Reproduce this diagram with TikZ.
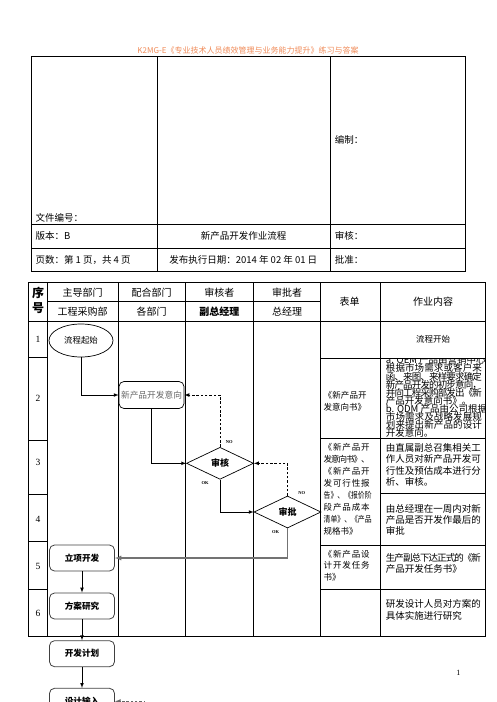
\documentclass[tikz,border=0pt]{standalone}
\usepackage{fontspec}
\usepackage{graphicx}
\setmainfont{Noto Sans CJK SC}
\newfontfamily\numfont{Liberation Serif}
\usetikzlibrary{shapes.geometric}
\usetikzlibrary{arrows.meta}
\tikzset{>=latex}
\definecolor{headorange}{RGB}{240,140,90}
\colorlet{boxgray}{black!75}
\lineskiplimit=-20pt
\newcommand\jl[2]{\makebox[#1][s]{\jlfirst#2\relax}}
\def\jlfirst#1{#1\jlrest}
\def\jlrest#1{\ifx#1\relax\else\hskip 0pt plus 1fil minus 0.35em\relax#1\expandafter\jlrest\fi}
\newcommand\sq[2]{\resizebox{#1}{\height}{#2}}
\tikzset{
  tabline/.style={line width=0.9pt},
  flowline/.style={line width=0.7pt,->},
  backline/.style={line width=0.7pt,->,dash pattern=on 2.5pt off 1.8pt},
  startbox/.style={draw,ellipse,line width=0.7pt,minimum width=64pt,minimum height=33pt,inner sep=0pt,font=\fontsize{8.4}{10}\selectfont},
  formbox/.style={draw,rounded corners=5pt,line width=0.7pt,minimum width=65pt,minimum height=27pt,inner sep=0pt,text=black!60,font=\fontsize{8.7}{10}\selectfont},
  stepbox/.style={draw=boxgray,rounded corners=5pt,line width=0.8pt,minimum width=65pt,minimum height=26pt,inner sep=0pt,font=\bfseries\fontsize{8.6}{10}\selectfont},
  checkbox/.style={draw,diamond,line width=0.7pt,minimum width=67pt,minimum height=32pt,inner sep=0pt,font=\bfseries\fontsize{9}{10}\selectfont},
  oktag/.style={inner sep=0pt,font=\numfont\bfseries\fontsize{4.5}{5}\selectfont},
  headtext/.style={inner sep=0pt,font=\fontsize{9.5}{11}\selectfont},
  lanehead/.style={inner sep=0pt,font=\fontsize{10}{12}\selectfont},
  rownum/.style={inner sep=0pt,font=\numfont\fontsize{9.5}{11}\selectfont},
  formtext/.style={inner sep=0pt,anchor=north west,align=left,font=\fontsize{8.5}{12}\selectfont},
  worktext/.style={inner sep=0pt,anchor=north west,align=left,font=\fontsize{9.5}{11.5}\selectfont}
}
\begin{document}
\begin{tikzpicture}[x=1pt,y=-1pt]
\useasboundingbox (0,0) rectangle (496,702);
\clip (0,0) rectangle (496,702);

\node[inner sep=0pt,text=headorange,font=\fontsize{8}{9}\selectfont] (title) at (248,50) {K2MG-E《专业技术人员绩效管理与业务能力提升》练习与答案};

\draw[tabline] (31.5,56.5) rectangle (465.5,271.3);
\draw[tabline] (31.5,224.3) -- (465.5,224.3);
\draw[tabline] (31.5,248.3) -- (465.5,248.3);
\draw[tabline] (157.3,56.5) -- (157.3,271.3);
\draw[tabline] (330.3,56.5) -- (330.3,271.3);

\node[headtext,anchor=west] (author) at (334.7,140) {编制：};
\node[headtext,anchor=west] (docno) at (35.3,218.3) {文件编号：};
\node[headtext,anchor=west] (version) at (35.3,236.3) {版本：B};
\node[headtext] (doctitle) at (243.7,236.3) {新产品开发作业流程};
\node[headtext,anchor=west] (checker) at (334.7,236.3) {审核：};
\node[headtext,anchor=west] (pages) at (35.3,259.5) {页数：第 1 页，共 4 页};
\node[headtext] (date) at (243.3,259.5) {发布执行日期：2014 年 02 年 01 日};
\node[headtext,anchor=west] (approver) at (334.7,259.5) {批准：};

\draw[tabline] (28.3,282.7) -- (485.7,282.7);
\draw[tabline] (47.7,301.7) -- (320,301.7);
\draw[tabline] (28.3,321.7) -- (485.7,321.7);
\draw[tabline] (28.3,636) -- (485.7,636);
\foreach \x in {28.3,47.7,118.3,185.3,253.3,320,380,485.7}
  \draw[tabline] (\x,282.7) -- (\x,636);
\foreach \y in {357.5,440.5,494.5,541,589.5}
  \draw[tabline] (28.3,\y) -- (47.7,\y);
\foreach \y in {358,438.5,545,589.5}
  \draw[tabline] (320,\y) -- (485.7,\y);
\draw[tabline] (380,493.5) -- (485.7,493.5);

\node[inner sep=0pt,font=\bfseries\fontsize{12}{13}\selectfont] (xu) at (38,292.7) {序};
\node[inner sep=0pt,font=\bfseries\fontsize{12}{13}\selectfont] (hao) at (38,308.3) {号};
\node[lanehead] (lead) at (82.7,292.5) {主导部门};
\node[lanehead] (leaddept) at (82.7,311.7) {工程采购部};
\node[lanehead] (assist) at (151.7,292.5) {配合部门};
\node[lanehead] (assistdept) at (151.7,311.7) {各部门};
\node[lanehead] (rev) at (219.3,292.5) {审核者};
\node[lanehead,font=\bfseries\fontsize{10}{12}\selectfont] (revname) at (219.3,311.7) {副总经理};
\node[lanehead] (appr) at (287,292.5) {审批者};
\node[lanehead] (apprname) at (287,311.7) {总经理};
\node[lanehead] (forms) at (349.5,301.5) {表单};
\node[lanehead] (work) at (433,301.5) {作业内容};

\node[rownum] (r1) at (38,339.5) {1};
\node[rownum] (r2) at (38,398.5) {2};
\node[rownum] (r3) at (38,462.3) {3};
\node[rownum] (r4) at (38,519.3) {4};
\node[rownum] (r5) at (38,566.7) {5};
\node[rownum] (r6) at (38,613.3) {6};

\node[startbox] (start) at (81,340.5) {流程起始};
\node[formbox] (intent) at (151.5,395) {新产品开发意向};
\node[checkbox] (review) at (220,463.3) {审核};
\node[checkbox] (approve) at (287.5,512) {审批};
\node[stepbox] (launch) at (82,558) {立项开发};
\node[stepbox] (scheme) at (82,606) {方案研究};
\node[stepbox] (plan) at (82,653.7) {开发计划};
\node[stepbox] (input) at (82,701.3) {设计输入};
\coordinate (feedback) at (144.5,720);

\draw[flowline] (start.south) |- (intent.west);
\draw[flowline] (intent.south) |- (review.west);
\draw[backline] (review.north) |- (intent.east);
\draw[flowline] (review.south) |- (approve.west);
\draw[backline] (approve.north) |- (review.east);
\draw[flowline,draw=black!55,line width=1.2pt] (approve.south) |- (launch.east);
\draw[flowline] (launch.south) -- (scheme.north);
\draw[flowline] (scheme.south) -- (plan.north);
\draw[flowline] (plan.south) -- (input.north);
\draw[backline,draw=black!60,line width=1pt] (feedback) |- (input.east);

\node[oktag] (reviewno) at (229.3,441.7) {NO};
\node[oktag] (reviewok) at (205,483) {OK};
\node[oktag] (approveno) at (301.7,492.7) {NO};
\node[oktag] (approveok) at (275.5,532) {OK};

\node[inner sep=0pt,font=\fontsize{8.5}{10}\selectfont] (work1) at (433,339.5) {流程开始};
\node[formtext] (form2) at (323.5,391.2) {\jl{43pt}{《新产品开}\\发意向书》};
\begin{scope}
\clip (380,358) rectangle (485.7,438.5);
\node[worktext,font=\fontsize{9.5}{8.1}\selectfont] (work2) at (385.7,355.7) {a. OEM 产品由营销中心\\\jl{96pt}{根据市场需求或客户来}\\\jl{96pt}{函、来图、来样要求确定}\\\jl{96pt}{新产品开发的初步意向，}\\\jl{96pt}{并向工程采购部发出《新}\\产品开发意向书》。\\b. ODM 产品由公司根据\\\jl{96pt}{市场需求及战略发展规}\\\jl{96pt}{划来提出新产品的设计}\\开发意向。};
\end{scope}
\node[formtext] (form3) at (323.5,442.9) {\jl{46pt}{《新产品开}\\\jl{46pt}{发意向书》、}\\\jl{46pt}{《新产品开}\\\jl{46pt}{发可行性报}\\\sq{48pt}{告》、《报价阶}\\\jl{46pt}{段产品成本}\\\sq{48pt}{清单》、《产品}\\规格书》};
\node[worktext] (work3) at (385.7,443) {\jl{95pt}{由直属副总召集相关工}\\\jl{95pt}{作人员对新产品开发可}\\\jl{95pt}{行性及预估成本进行分}\\析、审核。};
\node[worktext,font=\fontsize{9.5}{10.9}\selectfont] (work4) at (385.7,504) {\jl{95pt}{由总经理在一周内对新}\\\jl{95pt}{产品是否开发作最后的}\\审批};
\node[formtext,font=\fontsize{8.5}{11.7}\selectfont] (form5) at (323.5,549.7) {\jl{46pt}{《新产品设}\\\jl{46pt}{计开发任务}\\书》};
\node[worktext,font=\fontsize{9.5}{11.7}\selectfont] (work5) at (385.7,553) {\jl{95pt}{生产副总下达正式的《新}\\产品开发任务书》};
\node[worktext,font=\fontsize{9.5}{11.7}\selectfont] (work6) at (385.7,599.7) {\jl{95pt}{研发设计人员对方案的}\\具体实施进行研究};

\node[rownum,font=\numfont\fontsize{8}{9}\selectfont] (pageno) at (458.3,673.3) {1};
\end{tikzpicture}
\end{document}
